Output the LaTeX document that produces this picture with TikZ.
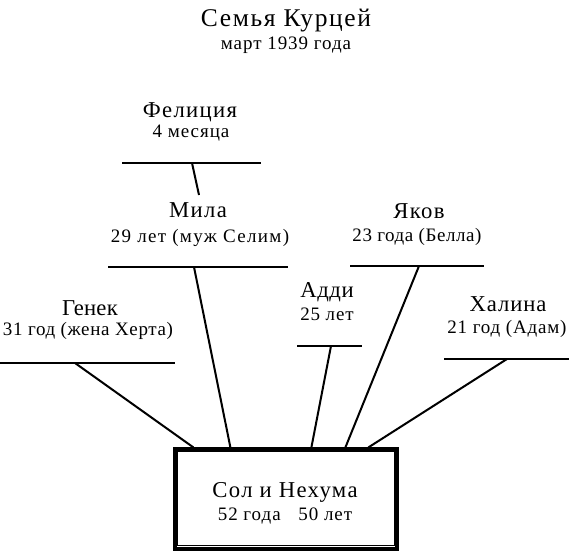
\documentclass[tikz,border=0pt]{standalone}
\usepackage{fontspec}
\setmainfont{Liberation Serif}
\usetikzlibrary{calc}
\begin{document}
\begin{tikzpicture}[x=1pt,y=-1pt,
  ttl/.style={font=\fontsize{25.5}{25.5}\selectfont\addfontfeature{LetterSpace=#1}, anchor=base, inner sep=0},
  ttl/.default=6.4,
  nm/.style={font=\fontsize{22.7}{22.7}\selectfont\addfontfeature{LetterSpace=#1}, anchor=base, inner sep=0},
  nm/.default=6,
  dt/.style={font=\fontsize{19}{19}\selectfont\addfontfeature{LetterSpace=#1}, anchor=base, inner sep=0},
  dt/.default=5,
  rule/.style={line width=2.4pt},
  link/.style={line width=2pt},
  famBox/.style={draw, line width=3.2pt, minimum width=222pt, minimum height=100pt, inner sep=0}]
\useasboundingbox[fill=white] (0,0) rectangle (576,552);
% title
\node[ttl] (title) at (286,26) {Семья Курцей};
\node[dt=5] (date) at (286,49) {март 1939 года};
% Felicja
\node[nm=6] (felN) at (190,117) {Фелиция};
\node[dt=5] (felD) at (191,137) {4 месяца};
\coordinate (felL) at (122,163); \coordinate (felR) at (261,163); \coordinate (felC) at (192,163);
\draw[rule] (felL) -- (felR);
% Mila
\node[nm=6] (milN) at (198,217) {Мила};
\node[dt=7] (milD) at (200,242) {29 лет (муж Селим)};
\coordinate (milL) at (108,267); \coordinate (milR) at (288,267); \coordinate (milC) at (194,267);
\draw[rule] (milL) -- (milR);
\coordinate (milTop) at (199,195);
\draw[link] (felC) -- (milTop);
% Yakov
\node[nm=6] (yakN) at (419,218) {Яков};
\node[dt=3] (yakD) at (417,241) {23 года (Белла)};
\coordinate (yakL) at (350,266); \coordinate (yakR) at (484,266); \coordinate (yakC) at (419,266);
\draw[rule] (yakL) -- (yakR);
% Addi
\node[nm=2.6] (addN) at (327,297) {Адди};
\node[dt=4.5] (addD) at (327,320) {25 лет};
\coordinate (addL) at (297,346); \coordinate (addR) at (362,346); \coordinate (addC) at (331,346);
\draw[rule] (addL) -- (addR);
% Halina
\node[nm=4] (halN) at (508,311) {Халина};
\node[dt=4.3] (halD) at (507,333) {21 год (Адам)};
\coordinate (halL) at (444,359); \coordinate (halR) at (569,359); \coordinate (halC) at (507,359);
\draw[rule] (halL) -- (halR);
% Genek
\node[nm=1] (genN) at (90,315) {Генек};
\node[dt=3.5] (genD) at (88,335) {31 год (жена Херта)};
\coordinate (genL) at (0,363); \coordinate (genR) at (175,363); \coordinate (genC) at (75,363);
\draw[rule] (genL) -- (genR);
% parents box
\node[famBox] (box) at (286,499) {};
\draw[line width=1pt] ($(box.north west)+(4.3,4.3)$) rectangle ($(box.south east)+(-4.3,-5.5)$);
\node[nm=6] (parN) at (285,497) {Сол и Нехума};
\node[dt=5] (parD) at (285,520) {52 года\hspace{12pt} 50 лет};
% connectors
\draw[link] (genC) -- ($(box.north west)+(20,0)$);
\draw[link] (milC) -- ($(box.north west)+(57,0)$);
\draw[link] (addC) -- ($(box.north west)+(138,0)$);
\draw[link] (yakC) -- ($(box.north west)+(172,0)$);
\draw[link] (halC) -- ($(box.north west)+(195,0)$);
\end{tikzpicture}
\end{document}
